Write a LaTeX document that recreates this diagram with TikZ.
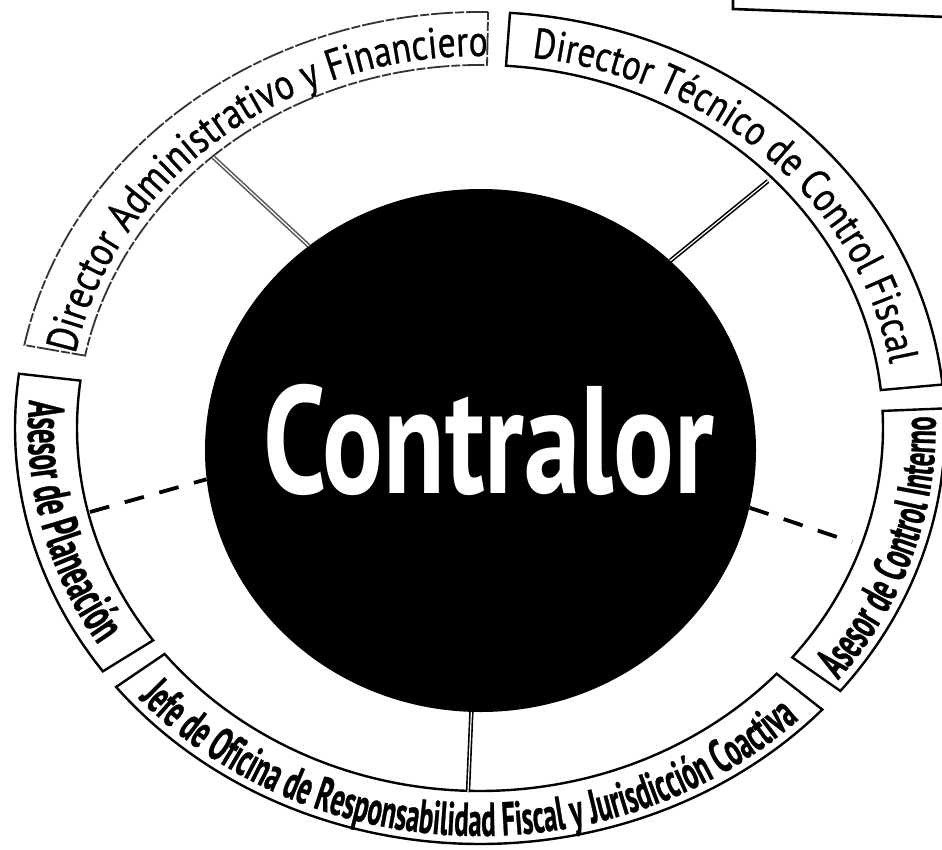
\documentclass[tikz,border=0pt]{standalone}
\usepackage{fontspec}
\setmainfont{PT Sans}
\newfontfamily\ptnarrow{PT Sans}[FakeStretch=0.82, FakeBold=0.7]
\newfontfamily\ptcond{PT Sans}[FakeStretch=0.56, FakeBold=0.6]
\newfontfamily\ctrfont{PT Sans}[FakeStretch=0.74]
\usetikzlibrary{shapes.geometric,decorations.text,calc}
\begin{document}
\begin{tikzpicture}[x=1pt,y=1pt,
  box/.style={draw=black, line width=2.4pt, line join=miter},
  admbox/.style={draw=black!80, line width=1.8pt, dash pattern=on 22pt off 2pt on 9pt off 2pt},
  link/.style={draw=black, line width=1.6pt, double=white, double distance=1.2pt},
  dlink/.style={draw=black, line width=3.8pt, dash pattern=on 20pt off 16pt},
]
\useasboundingbox (0,0) rectangle (942,-849);
\fill[white] (0,0) rectangle (942,-849);
\coordinate (C) at (480,-428);

% ring boxes (outer ellipse 465x416, inner 403x363)
\newcommand\annbox[3][]{%
  \draw[#1] (C) ++(#2:465 and 416) arc[start angle=#2, end angle=#3, x radius=465, y radius=416]
    -- ($(C)+(#3:403 and 363)$) arc[start angle=#3, end angle=#2, x radius=403, y radius=363] -- cycle;}
\annbox[admbox]{89}{168.5}
\annbox[box]{6}{86.3}
\annbox[box]{-39.2}{2.7}
\annbox[box]{218.5}{317.4}
\annbox[box]{172.5}{215.8}

% partial box at top right
\draw[line width=2.6pt] (733,3) -- (733,-9) -- (946,-17);

% labels along the ring
\path[decorate, decoration={text along path, text align=center,
  text={|\ptnarrow\fontsize{43.5}{43.5}\selectfont|Director Administrativo y Financiero}}]
  (C) ++(168.5:413 and 372) arc[start angle=168.5, end angle=89, x radius=413, y radius=372];
\path[decorate, decoration={text along path, text align=center,
  text={|\ptnarrow\fontsize{42.5}{42.5}\selectfont|Director Técnico de Control Fiscal}}]
  (C) ++(86.3:416 and 373.5) arc[start angle=86.3, end angle=6, x radius=416, y radius=373.5];
\path[decorate, decoration={text along path, text align=center,
  text={|\ptcond\bfseries\fontsize{47.5}{47.5}\selectfont|Jefe de Oficina de Responsabilidad Fiscal y Jurisdicción Coactiva}}]
  (C) ++(218.5:456 and 408) arc[start angle=218.5, end angle=317.4, x radius=456, y radius=408];
\path[decorate, decoration={text along path, text align=center,
  text={|\ptcond\bfseries\fontsize{47}{47}\selectfont|Asesor de Control Interno}}]
  (C) ++(-39.2:455.7 and 408) arc[start angle=-39.2, end angle=2.7, x radius=455.7, y radius=408];
\path[decorate, decoration={text along path, text align=center,
  text={|\ptcond\bfseries\fontsize{51}{51}\selectfont|Asesor de Planeación}}]
  (C) ++(172.5:452 and 405) arc[start angle=172.5, end angle=215.8, x radius=452, y radius=405];

% central node
\node[ellipse, fill=black, draw=none, inner sep=0pt, minimum width=551pt, minimum height=523pt] (contralor) at (480.5,-450.5) {};
\node[anchor=base, text=white, inner sep=0pt, font=\ctrfont\bfseries\fontsize{153}{153}\selectfont] (ctrlabel) at (489,-493) {Contralor};

% connection points on the ring
\coordinate (adm-c) at (213,-157);
\coordinate (tec-c) at (768,-181);
\coordinate (plan-c) at (90,-512);
\coordinate (ci-c) at (852,-542);
\coordinate (jefe-c) at (468,-792);

\draw[link, draw=black!65] (contralor.130.7) -- (adm-c);
\draw[link] (contralor.45.1) -- (tec-c);
\draw[link] (contralor.268.2) -- (jefe-c);
\draw[dlink] (plan-c) -- (contralor.186.8);
\draw[dlink] (contralor.348.4) -- (ci-c);
\end{tikzpicture}
\end{document}
